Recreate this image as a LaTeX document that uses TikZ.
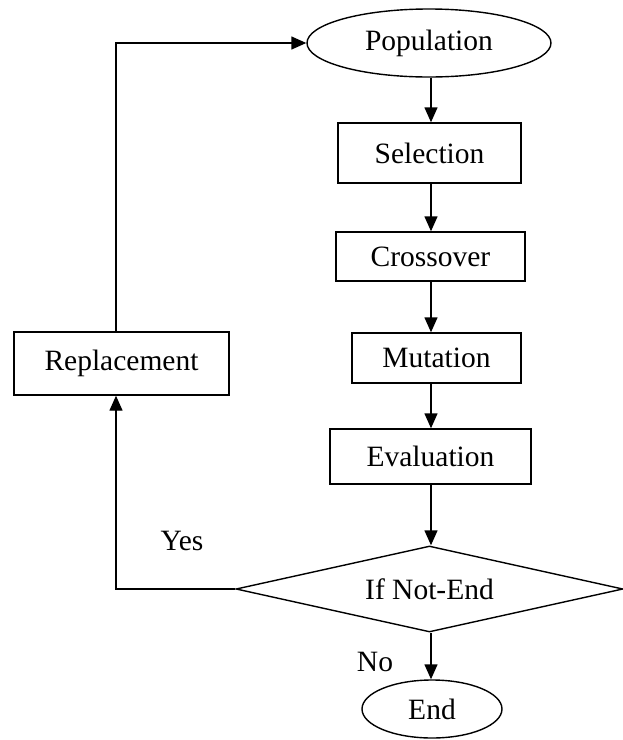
\documentclass[tikz,border=0pt]{standalone}
\usepackage{fontspec}
\setmainfont{Liberation Serif}
\usetikzlibrary{shapes.geometric,arrows.meta}
\begin{document}
\begin{tikzpicture}[x=1pt,y=-1pt,
  every node/.style={font=\fontsize{29.5}{33}\selectfont, inner sep=0pt},
  stepbox/.style={draw, line width=1.4pt, rectangle},
  oval/.style={draw, line width=1.4pt, ellipse},
  decision/.style={draw, line width=1.4pt, diamond, aspect=4.5},
  flow/.style={line width=1.4pt, -{Triangle[length=15pt,width=13pt]}},
  tag/.style={}]
\useasboundingbox (0,0) rectangle (623,740);

% main chain of the genetic algorithm
\node[oval, minimum width=244pt, minimum height=68pt] (pop) at (429,43) {Population};
\node[stepbox, minimum width=183pt, minimum height=60pt] (sel) at (429.5,153) {Selection};
\node[stepbox, minimum width=189pt, minimum height=49pt] (cro) at (430.5,256.5) {Crossover};
\node[stepbox, minimum width=169pt, minimum height=50pt] (mut) at (436.5,358) {Mutation};
\node[stepbox, minimum width=201pt, minimum height=55pt] (eva) at (430.5,456.5) {Evaluation};
\node[decision, minimum width=387pt, minimum height=86pt] (dec) at (429.5,589) {If Not-End};
\node[oval, minimum width=140pt, minimum height=58pt] (end) at (432,709) {End};
\node[stepbox, minimum width=215pt, minimum height=63pt] (rep) at (121.5,363.5) {Replacement};

% guide lines for the vertical connectors
\coordinate (spine) at (431,0);
\coordinate (loop) at (116,0);

\draw[flow] (pop.south -| spine) -- (sel.north -| spine);
\draw[flow] (sel.south -| spine) -- (cro.north -| spine);
\draw[flow] (cro.south -| spine) -- (mut.north -| spine);
\draw[flow] (mut.south -| spine) -- (eva.north -| spine);
\draw[flow] (eva.south -| spine) -- (dec.north -| spine);
\draw[flow] (dec.south -| spine) -- (end.north -| spine);

% feedback loop
\draw[flow] (dec.west) -| (rep.south -| loop);
\draw[flow] (rep.north -| loop) |- (pop.west);

% branch labels
\node[tag] (yes) at (182,541) {Yes};
\node[tag] (no) at (375,662) {No};
\end{tikzpicture}
\end{document}
